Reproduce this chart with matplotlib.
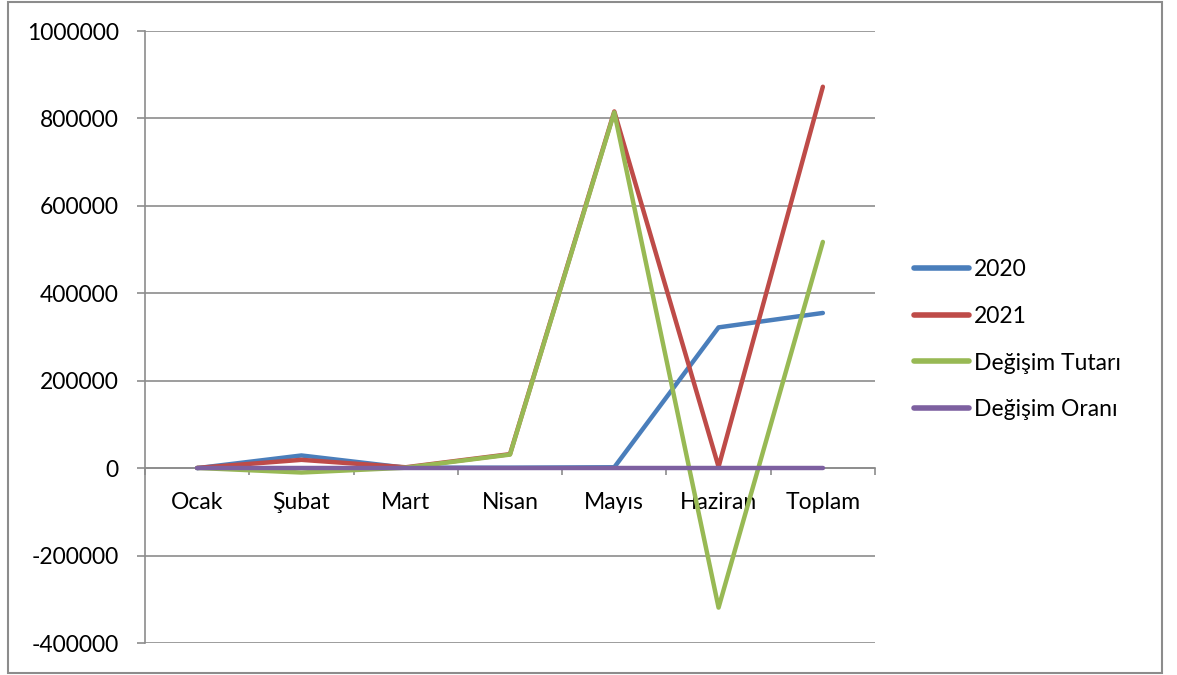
import matplotlib
matplotlib.use('Agg')
import matplotlib.pyplot as plt
from matplotlib.patches import Rectangle
from matplotlib.ticker import FuncFormatter

plt.rcParams['font.family'] = ['Lato', 'DejaVu Sans']
plt.rcParams['axes.unicode_minus'] = False

aylar = ['Ocak', 'Şubat', 'Mart', 'Nisan', 'Mayıs', 'Haziran', 'Toplam']
y2020 = [0, 29000, 1000, 1000, 2000, 322000, 355000]
y2021 = [500, 19000, 2000, 32000, 816000, 3000, 872500]
degisim_tutari = [500, -10000, 1000, 31000, 814000, -319000, 517500]
degisim_orani = [0, 0, 0, 0, 0, 0, 0]

seriler = [('2020', y2020, '#4A7EBB'),
           ('2021', y2021, '#BE4B48'),
           ('Değişim Tutarı', degisim_tutari, '#98B954'),
           ('Değişim Oranı', degisim_orani, '#7D60A0')]

fig = plt.figure(figsize=(11.77, 6.75), dpi=100)
ax = fig.add_axes([145 / 1177, 1 - 643 / 675, 730 / 1177, 612 / 675])

x = list(range(len(aylar)))
for ad, degerler, renk in seriler:
    ax.plot(x, degerler, color=renk, linewidth=3.2, label=ad, solid_capstyle='round')

grid_renk = '#8C8C8C'
ax.set_xlim(-0.5, len(aylar) - 0.5)
ax.set_ylim(-400000, 1000000)
ax.set_yticks(range(-400000, 1000001, 200000))
ax.yaxis.set_major_formatter(FuncFormatter(lambda v, p: '%d' % v))
ax.yaxis.grid(True, color=grid_renk, linewidth=1.2)
ax.set_axisbelow(True)

for s in ['top', 'right']:
    ax.spines[s].set_visible(False)
ax.spines['left'].set_color(grid_renk)
ax.spines['left'].set_linewidth(1.2)
ax.spines['bottom'].set_position(('data', 0))
ax.spines['bottom'].set_color(grid_renk)
ax.spines['bottom'].set_linewidth(1.2)
ax.spines['bottom'].set_zorder(1)

# kategori sınırlarında tikler, etiketler ortada
ax.set_xticks([i - 0.5 for i in range(len(aylar) + 1)])
ax.set_xticklabels([])
ax.set_xticks(x, minor=True)
ax.set_xticklabels(aylar, minor=True)
ax.tick_params(axis='x', which='major', direction='out', length=5, color=grid_renk, width=1.2)
ax.tick_params(axis='x', which='minor', length=0, pad=17, labelsize=16.5)
ax.tick_params(axis='y', direction='out', length=6, color=grid_renk, width=1.2, pad=13, labelsize=16.5)

leg = fig.legend(loc='upper left', bbox_to_anchor=(905 / 1177, 1 - 250 / 675),
                 frameon=False, fontsize=16.5, handlelength=2.4, handletextpad=0.2,
                 labelspacing=1.12, borderaxespad=0)
for h in leg.get_lines():
    h.set_linewidth(4)

fig.patches.append(Rectangle((8 / 1177, 2 / 675), 1154 / 1177, 671 / 675,
                             transform=fig.transFigure, fill=False,
                             edgecolor='#8C8C8C', linewidth=1.5))

plt.savefig('out.png', dpi=100)
